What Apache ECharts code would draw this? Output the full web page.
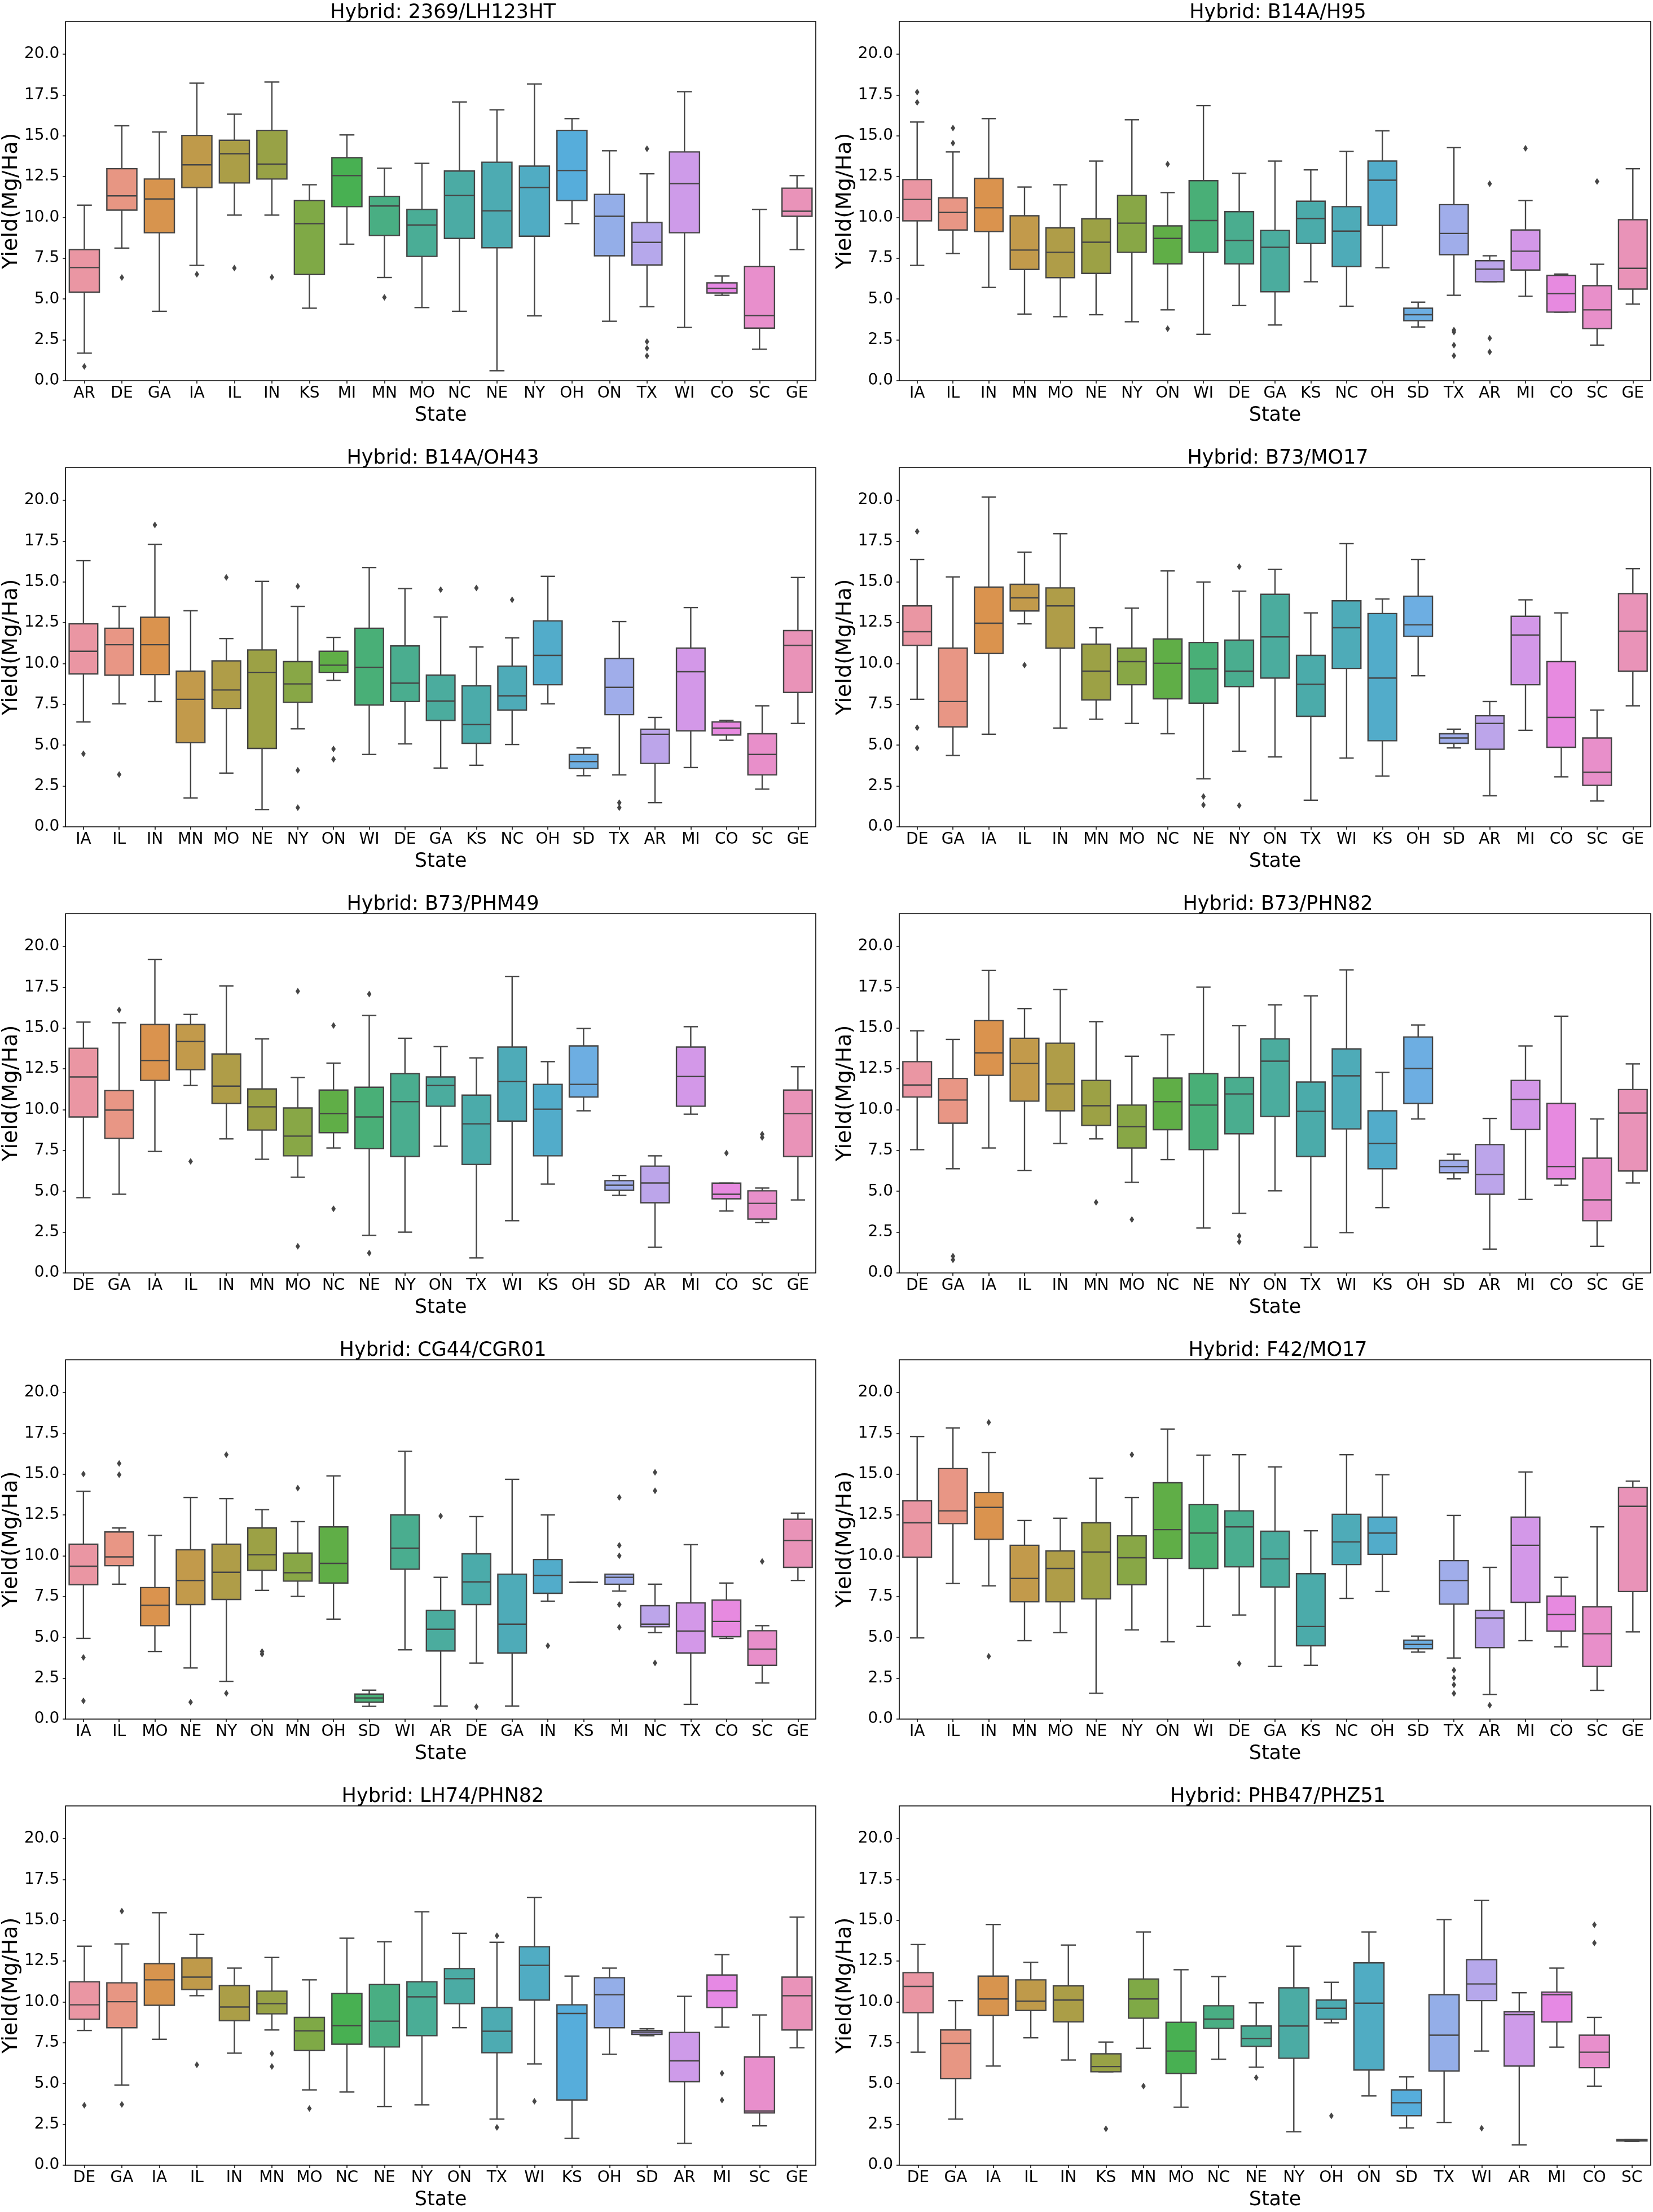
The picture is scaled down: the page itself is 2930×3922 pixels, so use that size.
<!DOCTYPE html>
<html>
<head>
<meta charset="UTF-8">
<title>Yield by state, per hybrid</title>
<script src="https://cdn.jsdelivr.net/npm/echarts@6.0.0/dist/echarts.min.js"></script>
<style>
    body { margin: 0; background: #fff; }
    #main { width: 2930px; height: 3922px; }
</style>
</head>
<body>
<div id="main"></div>
<script type="text/javascript">
// each box: [low whisker, Q1, median, Q3, high whisker]
var titles = ['Hybrid: 2369/LH123HT', 'Hybrid: B14A/H95', 'Hybrid: B14A/OH43', 'Hybrid: B73/MO17',
    'Hybrid: B73/PHM49', 'Hybrid: B73/PHN82', 'Hybrid: CG44/CGR01', 'Hybrid: F42/MO17',
    'Hybrid: LH74/PHN82', 'Hybrid: PHB47/PHZ51'];
var yTicks = [0, 2.5, 5, 7.5, 10, 12.5, 15, 17.5, 20];

var states1 = ['AR','DE','GA','IA','IL','IN','KS','MI','MN','MO','NC','NE','NY','OH','ON','TX','WI','CO','SC','GE'];
var boxes1 = [[1.69,5.42,6.93,8.03,10.75],[8.12,10.45,11.32,12.98,15.61],[4.25,9.06,11.13,12.35,15.23],[7.06,11.83,13.22,15.02,18.22],
    [10.14,12.11,13.9,14.72,16.32],[10.14,12.35,13.26,15.33,18.29],[4.44,6.5,9.62,11.03,12.0],[8.36,10.66,12.56,13.66,15.05],
    [6.32,8.89,10.7,11.29,13.01],[4.48,7.61,9.53,10.49,13.31],[4.25,8.71,11.34,12.84,17.07],[0.61,8.14,10.4,13.38,16.59],
    [3.97,8.85,11.83,13.14,18.17],[9.62,11.03,12.87,15.33,16.05],[3.64,7.65,10.07,11.41,14.08],[4.53,7.09,8.47,9.69,12.67],
    [3.26,9.06,12.07,14.01,17.7],[5.23,5.37,5.66,5.99,6.41],[1.93,3.22,3.99,6.99,10.49],[8.03,10.07,10.38,11.79,12.56]];
var outliers1 = [['AR',0.87],['DE',6.32],['IA',6.52],['IL',6.9],['IN',6.34],['MN',5.1],['TX',14.2],['TX',2.39],['TX',1.99],['TX',1.52]];

var states2 = ['IA','IL','IN','MN','MO','NE','NY','ON','WI','DE','GA','KS','NC','OH','SD','TX','AR','MI','CO','SC','GE'];
var boxes2 = [[7.06,9.79,11.1,12.32,15.84],[7.79,9.23,10.3,11.2,14.01],[5.71,9.13,10.59,12.39,16.05],[4.08,6.81,8.0,10.1,11.86],
    [3.92,6.31,7.86,9.36,12.0],[4.04,6.57,8.48,9.91,13.45],[3.61,7.86,9.65,11.34,15.98],[4.34,7.16,8.71,9.48,11.52],
    [2.84,7.86,9.81,12.25,16.85],[4.6,7.16,8.59,10.35,12.7],[3.41,5.45,8.17,9.2,13.45],[6.06,8.4,9.93,10.99,12.91],
    [4.56,6.99,9.16,10.66,14.04],[6.92,9.51,12.28,13.45,15.3],[3.29,3.68,4.04,4.44,4.81],[5.23,7.72,9.02,10.78,14.27],
    [6.06,6.06,6.83,7.35,7.65],[5.17,6.78,7.93,9.23,11.03],[4.2,4.2,5.33,6.45,6.53],[2.18,3.19,4.34,5.82,7.13],
    [4.69,5.61,6.88,9.86,12.98]];
var outliers2 = [['IA',17.67],['IA',17.04],['IL',15.47],['IL',14.55],['ON',13.26],['ON',3.19],['TX',3.1],['TX',2.98],
    ['TX',2.18],['TX',1.53],['AR',12.06],['AR',2.6],['AR',1.76],['MI',14.23],['SC',12.2]];

var states3 = ['IA','IL','IN','MN','MO','NE','NY','ON','WI','DE','GA','KS','NC','OH','SD','TX','AR','MI','CO','SC','GE'];
var boxes3 = [[6.42,9.37,10.75,12.43,16.3],[7.53,9.29,11.15,12.16,13.5],[7.67,9.32,11.15,12.83,17.3],[1.77,5.15,7.81,9.53,13.23],
    [3.29,7.25,8.38,10.16,11.53],[1.06,4.8,9.46,10.83,15.03],[6.0,7.63,8.75,10.12,13.5],[8.97,9.46,9.9,10.75,11.6],
    [4.43,7.46,9.77,12.16,15.88],[5.08,7.67,8.8,11.08,14.59],[3.6,6.52,7.7,9.29,12.85],[3.77,5.11,6.26,8.63,11.01],
    [5.04,7.15,8.02,9.84,11.57],[7.53,8.7,10.5,12.61,15.34],[3.13,3.57,4.0,4.43,4.83],[3.18,6.87,8.54,10.3,12.57],
    [1.48,3.88,5.67,5.98,6.7],[3.63,5.88,9.5,10.94,13.43],[5.3,5.62,6.05,6.42,6.52],[2.31,3.18,4.43,5.7,7.41],
    [6.33,8.23,11.11,12.02,15.27]];
var outliers3 = [['IA',4.47],['IL',3.2],['IN',18.49],['MO',15.27],['NY',14.73],['NY',3.46],['NY',1.17],['ON',4.77],
    ['ON',4.14],['GA',14.52],['KS',14.63],['NC',13.9],['TX',1.48],['TX',1.17]];

var states4 = ['DE','GA','IA','IL','IN','MN','MO','NC','NE','NY','ON','TX','WI','KS','OH','SD','AR','MI','CO','SC','GE'];
var boxes4 = [[7.81,11.11,11.95,13.53,16.37],[4.37,6.12,7.67,10.94,15.3],[5.67,10.61,12.47,14.68,20.19],[12.43,13.22,14.02,14.85,16.82],
    [6.05,10.94,13.53,14.63,17.95],[6.59,7.77,9.53,11.18,12.19],[6.33,8.7,10.12,10.94,13.39],[5.7,7.84,10.02,11.5,15.67],
    [2.94,7.57,9.67,11.29,14.99],[4.63,8.59,9.53,11.43,14.43],[4.28,9.11,11.63,14.24,15.76],[1.63,6.77,8.73,10.5,13.1],
    [4.21,9.7,12.19,13.84,17.34],[3.11,5.27,9.11,13.06,13.95],[9.25,11.67,12.37,14.12,16.37],[4.83,5.11,5.44,5.7,5.98],
    [1.9,4.75,6.33,6.8,7.67],[5.91,8.7,11.74,12.89,13.9],[3.06,4.87,6.7,10.12,13.1],[1.58,2.54,3.34,5.44,7.15],
    [7.41,9.53,11.98,14.28,15.81]];
var outliers4 = [['DE',18.09],['DE',6.07],['DE',4.83],['IL',9.9],['NE',1.86],['NE',1.34],['NY',15.93],['NY',1.3]];

var states5 = ['DE','GA','IA','IL','IN','MN','MO','NC','NE','NY','ON','TX','WI','KS','OH','SD','AR','MI','CO','SC','GE'];
var boxes5 = [[4.61,9.55,12.0,13.76,15.36],[4.82,8.24,9.97,11.17,15.32],[7.44,11.79,13.01,15.22,19.2],[11.48,12.45,14.17,15.22,15.83],
    [8.21,10.38,11.44,13.41,17.57],[6.96,8.75,10.17,11.27,14.33],[5.86,7.17,8.38,10.1,11.97],[7.65,8.59,9.76,11.2,12.85],
    [2.3,7.62,9.55,11.37,15.77],[2.5,7.13,10.49,12.21,14.37],[7.76,10.21,11.48,12.0,13.86],[0.92,6.64,9.13,10.89,13.17],
    [3.2,9.3,11.72,13.83,18.16],[5.44,7.17,10.03,11.55,12.94],[9.93,10.77,11.55,13.9,14.97],[4.75,5.06,5.37,5.65,5.97],
    [1.57,4.3,5.51,6.54,7.17],[9.72,10.21,12.03,13.83,15.08],[3.79,4.54,4.82,5.5,5.5],[3.08,3.3,4.26,5.03,5.2],
    [4.47,7.13,9.76,11.2,12.63]];
var outliers5 = [['GA',16.1],['IL',6.83],['MO',17.25],['MO',1.63],['NC',15.15],['NC',3.93],['NE',17.08],['NE',1.22],
    ['CO',7.34],['SC',8.5],['SC',8.3]];

var states6 = ['DE','GA','IA','IL','IN','MN','MO','NC','NE','NY','ON','TX','WI','KS','OH','SD','AR','MI','CO','SC','GE'];
var boxes6 = [[7.55,10.77,11.51,12.94,14.83],[6.38,9.17,10.59,11.91,14.3],[7.65,12.1,13.48,15.46,18.52],[6.28,10.52,12.82,14.37,16.19],
    [7.93,9.93,11.58,14.07,17.36],[8.21,9.03,10.24,11.79,15.39],[5.55,7.65,8.96,10.28,13.27],[6.94,8.77,10.49,11.93,14.59],
    [2.75,7.55,10.28,12.21,17.5],[3.65,8.52,10.96,11.97,15.15],[5.03,9.58,12.97,14.33,16.42],[1.57,7.13,9.9,11.69,16.97],
    [2.47,8.82,12.07,13.72,18.56],[4.0,6.38,7.93,9.93,12.28],[9.43,10.38,12.52,14.45,15.18],[5.76,6.14,6.52,6.89,7.27],
    [1.46,4.82,6.03,7.86,9.46],[4.5,8.78,10.63,11.79,13.9],[5.37,5.76,6.52,10.38,15.72],[1.63,3.2,4.47,7.03,9.43],
    [5.51,6.24,9.79,11.23,12.8]];
var outliers6 = [['GA',1.03],['GA',0.8],['MN',4.33],['MO',3.27],['NY',2.26],['NY',1.91]];

var states7 = ['IA','IL','MO','NE','NY','ON','MN','OH','SD','WI','AR','DE','GA','IN','KS','MI','NC','TX','CO','SC','GE'];
var boxes7 = [[4.94,8.23,9.36,10.71,13.95],[8.26,9.39,9.93,11.46,11.7],[4.14,5.72,6.97,8.05,11.25],[3.13,7.01,8.49,10.37,13.57],
    [2.31,7.32,8.99,10.71,13.5],[7.88,9.11,10.07,11.7,12.82],[7.51,8.45,8.96,10.16,12.09],[6.12,8.33,9.53,11.77,14.89],
    [0.78,1.04,1.29,1.53,1.77],[4.24,9.18,10.47,12.5,16.4],[0.8,4.17,5.5,6.66,8.68],[3.43,7.01,8.4,10.12,12.4],
    [0.8,4.05,5.81,8.87,14.68],[7.22,7.7,8.8,9.77,12.5],[8.37,8.37,8.37,8.37,8.37],[7.84,8.26,8.68,8.87,8.87],
    [5.29,5.65,5.81,6.94,8.26],[0.9,4.05,5.39,7.11,10.68],[4.94,5.04,5.98,7.29,8.33],[2.21,3.29,4.28,5.41,5.72],
    [8.49,9.29,10.94,12.24,12.61]];
var outliers7 = [['IA',15.01],['IA',3.77],['IA',1.11],['IL',15.65],['IL',14.96],['NE',1.04],['NY',16.19],['NY',1.58],
    ['ON',4.14],['ON',3.98],['MN',14.14],['AR',12.43],['DE',0.75],['IN',4.49],['MI',13.57],['MI',10.64],['MI',10.0],
    ['MI',7.01],['MI',5.62],['NC',15.11],['NC',13.98],['NC',3.44],['SC',9.65]];

var states8 = ['IA','IL','IN','MN','MO','NE','NY','ON','WI','DE','GA','KS','NC','OH','SD','TX','AR','MI','CO','SC','GE'];
var boxes8 = [[4.97,9.91,12.02,13.36,17.3],[8.3,11.97,12.75,15.34,17.83],[8.16,11.01,12.96,13.88,16.33],[4.8,7.18,8.61,10.64,12.16],
    [5.29,7.18,9.22,10.3,12.3],[1.58,7.36,10.23,12.02,14.75],[5.46,8.23,9.88,11.22,13.57],[4.73,9.84,11.6,14.47,17.76],
    [5.67,9.22,11.39,13.13,16.16],[6.37,9.32,11.77,12.75,16.19],[3.22,8.09,9.81,11.5,15.44],[3.29,4.49,5.67,8.9,11.53],
    [7.39,9.46,10.85,12.54,16.19],[7.81,10.09,11.39,12.37,14.96],[4.1,4.31,4.57,4.83,5.08],[3.74,7.04,8.49,9.7,12.47],
    [1.51,4.38,6.19,6.66,9.29],[4.8,7.15,10.64,12.37,15.13],[4.42,5.39,6.4,7.53,8.68],[1.76,3.22,5.22,6.87,11.77],
    [5.34,7.81,13.03,14.19,14.57]];
var outliers8 = [['IN',18.17],['IN',3.84],['NY',16.19],['DE',3.39],['TX',3.0],['TX',2.52],['TX',2.1],['TX',1.57],['AR',0.85]];

var states9 = ['DE','GA','IA','IL','IN','MN','MO','NC','NE','NY','ON','TX','WI','KS','OH','SD','AR','MI','SC','GE'];
var boxes9 = [[8.25,8.94,9.82,11.23,13.41],[4.91,8.42,10.01,11.17,13.55],[7.71,9.79,11.35,12.34,15.46],[10.38,10.76,11.52,12.69,14.13],
    [6.86,8.85,9.69,11.0,12.07],[8.28,9.27,9.89,10.66,12.72],[4.61,7.02,8.23,9.05,11.35],[4.48,7.41,8.55,10.51,13.9],
    [3.59,7.24,8.82,11.06,13.68],[3.69,7.93,10.31,11.23,15.52],[8.42,9.89,11.42,12.04,14.2],[2.82,6.89,8.2,9.66,13.65],
    [6.2,10.11,12.24,13.38,16.4],[1.64,3.99,9.29,9.82,11.58],[6.79,8.42,10.44,11.48,12.07],[7.93,8.01,8.15,8.25,8.35],
    [1.34,5.11,6.39,8.13,10.34],[8.45,9.66,10.68,11.65,12.89],[2.41,3.2,3.32,6.62,9.2],[7.19,8.28,10.38,11.52,15.19]];
var outliers9 = [['DE',3.67],['GA',15.56],['GA',3.72],['IL',6.15],['MN',6.84],['MN',6.04],['MO',3.47],['TX',14.05],
    ['TX',2.31],['WI',3.91],['MI',5.63],['MI',3.99]];

var states10 = ['DE','GA','IA','IL','IN','KS','MN','MO','NC','NE','NY','OH','ON','SD','TX','WI','AR','MI','CO','SC'];
var boxes10 = [[6.92,9.34,10.95,11.79,13.51],[2.82,5.31,7.46,8.28,10.08],[6.07,9.17,10.18,11.58,14.74],[7.8,9.47,10.04,11.35,12.42],
    [6.44,8.78,10.11,10.98,13.48],[5.72,5.72,6.04,6.82,7.54],[7.16,9.0,10.18,11.4,14.28],[3.55,5.62,6.99,8.75,11.97],
    [6.49,8.38,8.95,9.76,11.55],[6.0,7.28,7.76,8.52,9.94],[2.05,6.55,8.52,10.86,13.41],[8.72,8.94,9.61,10.11,11.2],
    [4.24,5.83,9.92,12.39,14.28],[2.28,3.03,3.82,4.61,5.41],[2.62,5.77,7.96,10.44,15.04],[6.99,10.08,11.1,12.59,16.21],
    [1.24,6.07,9.22,9.39,10.56],[7.23,8.77,10.44,10.6,12.07],[4.84,5.97,6.92,7.96,9.05],[1.46,1.48,1.53,1.57,1.58]];
var outliers10 = [['KS',2.23],['MN',4.84],['NE',5.36],['OH',3.02],['WI',2.26],['CO',14.72],['CO',13.61]];

var plots = [
    [states1, boxes1, outliers1], [states2, boxes2, outliers2], [states3, boxes3, outliers3],
    [states4, boxes4, outliers4], [states5, boxes5, outliers5], [states6, boxes6, outliers6],
    [states7, boxes7, outliers7], [states8, boxes8, outliers8], [states9, boxes9, outliers9],
    [states10, boxes10, outliers10]
];

// seaborn-like husl palette (l=.7) desaturated to .75
var M = [[3.2406, -1.5372, -0.4986], [-0.9689, 1.8758, 0.0415], [0.0557, -0.2040, 1.0570]];
function maxChroma(L, H) {
    var hr = H * Math.PI / 180, sn = Math.sin(hr), cs = Math.cos(hr);
    var sub1 = Math.pow(L + 16, 3) / 1560896;
    var sub2 = sub1 > 0.008856 ? sub1 : L / 903.3;
    var res = Infinity;
    M.forEach(function (r) {
        var top = (0.99915 * r[0] + 1.05122 * r[1] + 1.14460 * r[2]) * sub2;
        var rb = 0.86330 * r[2] - 0.17266 * r[1];
        var lb = 0.12949 * r[2] - 0.38848 * r[0];
        var bottom = (rb * sn + lb * cs) * sub2;
        [0, 1].forEach(function (t) {
            var C = L * (top - 1.05122 * t) / (bottom + 0.17266 * sn * t);
            if (C > 0 && C < res) res = C;
        });
    });
    return res;
}
function huslToRgb(h, s, l) {
    var C = maxChroma(l, h) / 100 * s;
    var hr = h * Math.PI / 180;
    var U = Math.cos(hr) * C, V = Math.sin(hr) * C;
    var t = (l + 16) / 116;
    var Y = Math.pow(t, 3) > 0.008856 ? Math.pow(t, 3) : (116 * t - 16) / 903.3;
    var vu = U / (13 * l) + 0.19784, vv = V / (13 * l) + 0.46834;
    var X = -(9 * Y * vu) / ((vu - 4) * vv - vu * vv);
    var Z = (9 * Y - 15 * vv * Y - vv * X) / (3 * vv);
    return M.map(function (r) {
        var c = r[0] * X + r[1] * Y + r[2] * Z;
        var g = c <= 0.0031308 ? 12.92 * c : 1.055 * Math.pow(c, 1 / 2.4) - 0.055;
        return Math.min(1, Math.max(0, g));
    });
}
function rgbToHls(c) {
    var r = c[0], g = c[1], b = c[2];
    var mx = Math.max(r, g, b), mn = Math.min(r, g, b), l = (mx + mn) / 2;
    if (mx === mn) return [0, l, 0];
    var s = l <= 0.5 ? (mx - mn) / (mx + mn) : (mx - mn) / (2 - mx - mn);
    var rc = (mx - r) / (mx - mn), gc = (mx - g) / (mx - mn), bc = (mx - b) / (mx - mn);
    var h = r === mx ? bc - gc : (g === mx ? 2 + rc - bc : 4 + gc - rc);
    h = ((h / 6) % 1 + 1) % 1;
    return [h, l, s];
}
function hlsToRgb(h, l, s) {
    if (s === 0) return [l, l, l];
    var m2 = l <= 0.5 ? l * (1 + s) : l + s - l * s, m1 = 2 * l - m2;
    function v(hue) {
        hue = ((hue % 1) + 1) % 1;
        if (hue < 1 / 6) return m1 + (m2 - m1) * hue * 6;
        if (hue < 0.5) return m2;
        if (hue < 2 / 3) return m1 + (m2 - m1) * (2 / 3 - hue) * 6;
        return m1;
    }
    return [v(h + 1 / 3), v(h), v(h - 1 / 3)];
}
function toHex(c) {
    return '#' + c.map(function (x) {
        var s = Math.round(x * 255).toString(16);
        return s.length < 2 ? '0' + s : s;
    }).join('');
}
function boxPalette(n) {
    var cols = [], minL = 1;
    for (var i = 0; i < n; i++) {
        var hue = ((i / n + 0.01) % 1) * 359;
        var hls = rgbToHls(huslToRgb(hue, 89.1, 69.3));
        minL = Math.min(minL, hls[1]);
        cols.push(toHex(hlsToRgb(hls[0], hls[1], hls[2] * 0.75)));
    }
    var g = minL * 0.6;
    return { colors: cols, gray: toHex([g, g, g]) };
}

var FONT = 'DejaVu Sans';
var grids = [], xAxes = [], yAxes = [], series = [], titleList = [];

function boxRenderer(colors, gray) {
    return function (params, api) {
        var i = api.value(0);
        var lo = api.coord([i, api.value(1)]);
        var q1 = api.coord([i, api.value(2)]);
        var md = api.coord([i, api.value(3)]);
        var q3 = api.coord([i, api.value(4)]);
        var hi = api.coord([i, api.value(5)]);
        var band = api.size([1, 0])[0];
        var x = md[0], w = band * 0.8, cw = w * 0.5;
        var ln = { stroke: gray, lineWidth: 2.4 };
        return {
            type: 'group',
            children: [
                { type: 'line', shape: { x1: x, y1: q1[1], x2: x, y2: lo[1] }, style: ln },
                { type: 'line', shape: { x1: x, y1: q3[1], x2: x, y2: hi[1] }, style: ln },
                { type: 'line', shape: { x1: x - cw / 2, y1: lo[1], x2: x + cw / 2, y2: lo[1] }, style: ln },
                { type: 'line', shape: { x1: x - cw / 2, y1: hi[1], x2: x + cw / 2, y2: hi[1] }, style: ln },
                { type: 'rect', shape: { x: x - w / 2, y: q3[1], width: w, height: q1[1] - q3[1] },
                  style: { fill: colors[i], stroke: gray, lineWidth: 2.4 } },
                { type: 'line', shape: { x1: x - w / 2, y1: md[1], x2: x + w / 2, y2: md[1] }, style: ln }
            ]
        };
    };
}

plots.forEach(function (p, k) {
    var states = p[0], boxes = p[1], outs = p[2];
    var row = Math.floor(k / 2), col = k % 2;
    var left = col ? 1594 : 114, top = 38 + 791 * row;
    var pal = boxPalette(states.length);

    grids.push({ left: left, top: top, width: 1332, height: 637, show: true,
        borderColor: '#000', borderWidth: 1.6, backgroundColor: '#fff', containLabel: false });
    titleList.push({ text: titles[k], left: left + 666, top: Math.max(0, top - 39), textAlign: 'center',
        textStyle: { fontFamily: FONT, fontSize: 35, fontWeight: 'normal', color: '#000' } });
    xAxes.push({ type: 'category', gridIndex: k, data: states, boundaryGap: true,
        name: 'State', nameLocation: 'middle', nameGap: 44,
        nameTextStyle: { fontFamily: FONT, fontSize: 35, color: '#000' },
        axisLine: { show: false },
        axisTick: { show: true, alignWithLabel: true, length: 5, lineStyle: { color: '#000', width: 1.5 } },
        axisLabel: { fontFamily: FONT, fontSize: 28, color: '#000', margin: 9, interval: 0 },
        splitLine: { show: false } });
    yAxes.push({ type: 'value', gridIndex: k, min: 0, max: 22, interval: 2.5,
        name: 'Yield(Mg/Ha)', nameLocation: 'middle', nameGap: 72, nameRotate: 90,
        nameTextStyle: { fontFamily: FONT, fontSize: 38, color: '#000' },
        axisLine: { show: false },
        axisTick: { show: true, length: 5, customValues: yTicks, lineStyle: { color: '#000', width: 1.5 } },
        axisLabel: { fontFamily: FONT, fontSize: 28, color: '#000', margin: 11, customValues: yTicks,
            formatter: function (v) { return Number(v).toFixed(1); } },
        splitLine: { show: false } });

    series.push({
        type: 'custom', xAxisIndex: k, yAxisIndex: k,
        renderItem: boxRenderer(pal.colors, pal.gray),
        encode: { x: 0, y: [1, 2, 3, 4, 5] },
        data: boxes.map(function (b, i) { return [i].concat(b); }),
        silent: true
    });
    series.push({
        type: 'scatter', xAxisIndex: k, yAxisIndex: k,
        symbol: 'diamond', symbolSize: [8, 12],
        itemStyle: { color: pal.gray, opacity: 1 },
        data: outs.map(function (o) { return [states.indexOf(o[0]), o[1]]; }),
        silent: true, z: 3
    });
});

var myChart = echarts.init(document.getElementById('main'), null, { renderer: 'canvas' });
myChart.setOption({
    backgroundColor: '#fff',
    animation: false,
    title: titleList,
    grid: grids,
    xAxis: xAxes,
    yAxis: yAxes,
    series: series
});
</script>
</body>
</html>
